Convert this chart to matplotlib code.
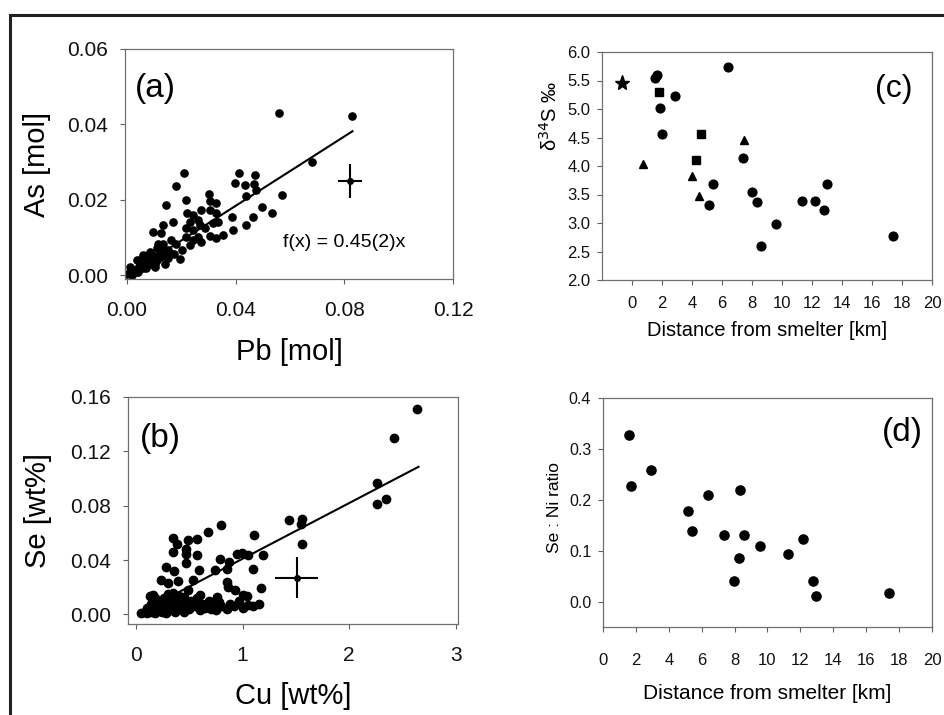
import numpy as np
import matplotlib
matplotlib.use("Agg")
import matplotlib.pyplot as plt
from matplotlib.lines import Line2D

plt.rcParams['font.family'] = ['Liberation Sans', 'DejaVu Sans']

# (a) Pb vs As [mol]
pb = [0.0209, 0.0180, 0.0143, 0.0217, 0.0221, 0.0243, 0.0302, 0.0305, 0.0329, 0.0274,
      0.0305, 0.0327, 0.0262, 0.0231, 0.0170, 0.0133, 0.0097, 0.0127, 0.0217, 0.0243,
      0.0268, 0.0286, 0.0317, 0.0335, 0.0353, 0.0305, 0.0327, 0.0388, 0.0390, 0.0439,
      0.0464, 0.0412, 0.0396, 0.0433, 0.0470, 0.0466, 0.0437, 0.0476, 0.0571, 0.0498,
      0.0535, 0.0262, 0.0274, 0.0231, 0.0194, 0.0152, 0.0109, 0.0084, 0.0060, 0.0036,
      0.0011, 0.0000, 0.0023, 0.0048, 0.0072, 0.0097, 0.0121, 0.0139, 0.0103, 0.0072,
      0.0041, 0.0182, 0.0164, 0.0219, 0.0243, 0.0201, 0.0133, 0.0115, 0.0561, 0.0827,
      0.0681, 0.0010, 0.0020, 0.0030, 0.0040, 0.0050, 0.0060, 0.0070, 0.0020, 0.0035,
      0.0080, 0.0090, 0.0110, 0.0120, 0.0140, 0.0160, 0.0050, 0.0070, 0.0100, 0.0150,
      0.0175, 0.0130, 0.0085, 0.0105]
as_ = [0.0272, 0.0236, 0.0186, 0.0199, 0.0165, 0.0159, 0.0215, 0.0197, 0.0192, 0.0174,
       0.0174, 0.0164, 0.0146, 0.0142, 0.0142, 0.0133, 0.0115, 0.0111, 0.0124, 0.0119,
       0.0133, 0.0124, 0.0139, 0.0142, 0.0106, 0.0104, 0.0100, 0.0155, 0.0121, 0.0133,
       0.0155, 0.0272, 0.0245, 0.0239, 0.0265, 0.0242, 0.0210, 0.0226, 0.0212, 0.0181,
       0.0165, 0.0102, 0.0088, 0.0080, 0.0044, 0.0066, 0.0071, 0.0062, 0.0053, 0.0040,
       0.0022, 0.0004, 0.0013, 0.0031, 0.0040, 0.0044, 0.0049, 0.0031, 0.0022, 0.0018,
       0.0009, 0.0084, 0.0093, 0.0102, 0.0093, 0.0066, 0.0084, 0.0084, 0.0429, 0.0422,
       0.0301, 0.0005, 0.0010, 0.0015, 0.0020, 0.0025, 0.0020, 0.0030, 0.0000, 0.0008,
       0.0035, 0.0030, 0.0040, 0.0060, 0.0050, 0.0060, 0.0040, 0.0050, 0.0050, 0.0045,
       0.0055, 0.0070, 0.0045, 0.0030]
pb_err = (0.0821, 0.0250)   # typical error cross
slope_a = 0.46

# (b) Cu vs Se [wt%]
cu = [2.64, 2.42, 2.265, 2.256, 2.343, 1.437, 1.553, 1.546, 1.559, 0.678, 0.794, 1.109,
      0.344, 0.387, 0.49, 0.575, 0.344, 0.469, 0.469, 0.569, 0.469, 0.281, 0.356, 0.588,
      0.787, 0.874, 0.740, 0.850, 0.949, 0.991, 1.053, 1.187, 1.094, 0.231, 0.303, 0.394,
      0.537, 0.850, 0.865, 0.928, 1.169, 1.006, 1.037, 0.756, 0.60, 0.49, 0.162, 0.296,
      0.40, 0.131,
      0.05, 0.08, 0.10, 0.12, 0.15, 0.17, 0.18, 0.20, 0.22, 0.24, 0.25, 0.27, 0.28, 0.30,
      0.32, 0.33, 0.35, 0.37, 0.38, 0.40, 0.42, 0.44, 0.45, 0.47, 0.50, 0.52, 0.55, 0.57,
      0.60, 0.62, 0.65, 0.68, 0.70, 0.72, 0.75, 0.78, 0.80, 0.85, 0.88, 0.92, 0.97, 1.00,
      1.05, 1.10, 1.15, 0.10, 0.14, 0.20, 0.26, 0.30, 0.18, 0.35, 0.45]
se = [0.151, 0.1295, 0.0968, 0.0811, 0.0846, 0.0693, 0.0706, 0.0669, 0.0516, 0.0607,
      0.0656, 0.0588, 0.0566, 0.0521, 0.0546, 0.0553, 0.0459, 0.0484, 0.0448, 0.0440,
      0.0378, 0.0349, 0.0317, 0.0324, 0.0411, 0.0386, 0.0330, 0.0337, 0.0448, 0.0455,
      0.0435, 0.0435, 0.0332, 0.0256, 0.0231, 0.0246, 0.0256, 0.0238, 0.0201, 0.0177,
      0.0197, 0.0140, 0.0133, 0.0128, 0.0147, 0.0177, 0.0147, 0.0140, 0.0133, 0.0133,
      0.001, 0.002, 0.001, 0.003, 0.002, 0.005, 0.001, 0.003, 0.006, 0.002, 0.009, 0.004,
      0.001, 0.006, 0.003, 0.011, 0.005, 0.002, 0.008, 0.004, 0.010, 0.006, 0.002, 0.008,
      0.004, 0.010, 0.006, 0.012, 0.003, 0.008, 0.005, 0.010, 0.004, 0.007, 0.003, 0.009,
      0.006, 0.004, 0.008, 0.006, 0.010, 0.005, 0.007, 0.006, 0.008, 0.005, 0.008, 0.010,
      0.012, 0.015, 0.012, 0.016, 0.013]
cu_err = (1.506, 0.027)
slope_b = 0.041

# (c) delta34S vs distance, by symbol
dist_c_circ = [1.64, 1.56, 1.87, 2.0, 2.89, 6.4, 5.38, 5.15, 7.38, 7.98, 8.31, 8.6, 9.6,
               11.31, 12.18, 12.82, 12.98, 17.42]
d34s_circ = [5.60, 5.54, 5.02, 4.57, 5.22, 5.73, 3.69, 3.31, 4.14, 3.54, 3.36, 2.59, 2.99,
             3.38, 3.39, 3.22, 3.69, 2.77]
dist_c_sq = [1.82, 4.62, 4.29]
d34s_sq = [5.30, 4.56, 4.11]
dist_c_tri = [0.76, 4.0, 4.49, 7.47]
d34s_tri = [4.03, 3.83, 3.47, 4.46]
dist_c_star = [-0.64]
d34s_star = [5.45]

# (d) Se:Ni ratio vs distance
dist_d = [1.60, 1.70, 2.90, 5.15, 5.39, 6.40, 7.37, 8.35, 8.57, 8.27, 7.96, 9.56, 11.26,
          12.16, 12.77, 12.97, 17.39]
se_ni = [0.328, 0.227, 0.258, 0.178, 0.138, 0.209, 0.131, 0.220, 0.131, 0.086, 0.040,
         0.110, 0.094, 0.122, 0.040, 0.011, 0.016]

fig = plt.figure(figsize=(9.45, 7.15), dpi=100)
W, H = 945.0, 715.0


def px_axes(l, t, r, b):
    return fig.add_axes([l / W, 1 - b / H, (r - l) / W, (b - t) / H])


def style(ax, fs, pad_x, pad_y):
    for s in ax.spines.values():
        s.set_color('#707070')
        s.set_linewidth(0.9)
    ax.tick_params(direction='out', length=3.5, width=0.8, color='#606060',
                   labelsize=fs, labelcolor='#111111')
    ax.tick_params(axis='x', pad=pad_x)
    ax.tick_params(axis='y', pad=pad_y)


# outer frame (left and top edges)
fig.add_artist(Line2D([10 / W, 10 / W], [0, 1 - 15 / H], color='#222222', lw=2.2))
fig.add_artist(Line2D([10 / W, 1], [1 - 15 / H, 1 - 15 / H], color='#222222', lw=2.2))

# ---- (a)
ax = px_axes(125, 49, 453, 279)
ax.plot(pb, as_, 'o', color='black', ms=5.2, mec='black')
xx = np.array([0, 0.083])
ax.plot(xx, slope_a * xx, color='black', lw=1.5)
ax.errorbar([pb_err[0]], [pb_err[1]], xerr=0.0044, yerr=0.0044, fmt='o', color='black',
            ms=4, elinewidth=1.5, capsize=0)
ax.set_xlim(-0.0007, 0.12)
ax.set_ylim(-0.001, 0.06)
ax.set_xticks([0, 0.04, 0.08, 0.12])
ax.set_yticks([0, 0.02, 0.04, 0.06])
ax.xaxis.set_major_formatter(plt.FormatStrFormatter('%.2f'))
ax.yaxis.set_major_formatter(plt.FormatStrFormatter('%.2f'))
style(ax, 15, 12, 9)
ax.set_xlabel('Pb [mol]', fontsize=21)
ax.xaxis.set_label_coords(0.5, -0.255)
ax.set_ylabel('As [mol]', fontsize=21)
ax.yaxis.set_label_coords(-0.225, 0.5)
ax.text(0.03, 0.83, '(a)', transform=ax.transAxes, fontsize=24, ha='left', va='center')
ax.text(0.482, 0.157, 'f(x) = 0.45(2)x', transform=ax.transAxes, fontsize=14,
        ha='left', va='center')

# ---- (b)
ax = px_axes(128, 397, 458, 624)
ax.plot(cu, se, 'o', color='black', ms=6, mec='black')
xx = np.array([0.1, 2.65])
ax.plot(xx, slope_b * xx, color='black', lw=1.5)
ax.errorbar([cu_err[0]], [cu_err[1]], xerr=0.2, yerr=0.015, fmt='o', color='black',
            ms=4, elinewidth=1.5, capsize=0)
ax.set_xlim(-0.075, 3.02)
ax.set_ylim(-0.007, 0.16)
ax.set_xticks([0, 1, 2, 3])
ax.set_yticks([0, 0.04, 0.08, 0.12, 0.16])
ax.yaxis.set_major_formatter(plt.FormatStrFormatter('%.2f'))
style(ax, 15, 12, 9)
ax.set_xlabel('Cu [wt%]', fontsize=21)
ax.xaxis.set_label_coords(0.5, -0.255)
ax.set_ylabel('Se [wt%]', fontsize=21)
ax.yaxis.set_label_coords(-0.23, 0.5)
ax.text(0.036, 0.815, '(b)', transform=ax.transAxes, fontsize=24, ha='left', va='center')

# ---- (c)
ax = px_axes(602, 52, 932, 280)
ax.plot(dist_c_circ, d34s_circ, 'o', color='black', ms=6.3)
ax.plot(dist_c_sq, d34s_sq, 's', color='black', ms=5.6)
ax.plot(dist_c_tri, d34s_tri, '^', color='black', ms=6.3)
ax.plot(dist_c_star, d34s_star, '*', color='black', ms=11)
ax.set_xlim(-2, 20)
ax.set_ylim(2.0, 6.0)
ax.set_xticks(range(0, 21, 2))
ax.set_yticks(np.arange(2.0, 6.01, 0.5))
ax.yaxis.set_major_formatter(plt.FormatStrFormatter('%.1f'))
style(ax, 12, 8, 5)
ax.set_xlabel('Distance from smelter [km]', fontsize=14.5)
ax.xaxis.set_label_coords(0.5, -0.18)
ax.set_ylabel('δ$^{34}$S ‰', fontsize=14.5)
ax.yaxis.set_label_coords(-0.125, 0.72)
ax.text(0.942, 0.838, '(c)', transform=ax.transAxes, fontsize=23, ha='right', va='center')

# ---- (d)
narrow = ['Liberation Sans Narrow', 'Liberation Sans', 'DejaVu Sans']
ax = px_axes(603, 398, 932, 627)
ax.plot(dist_d, se_ni, 'o', color='black', ms=6.6)
ax.set_xlim(0, 20)
ax.set_ylim(-0.05, 0.4)
ax.set_xticks(range(0, 21, 2))
ax.set_yticks([0.0, 0.1, 0.2, 0.3, 0.4])
ax.yaxis.set_major_formatter(plt.FormatStrFormatter('%.1f'))
style(ax, 11.5, 15, 5)
for lab in ax.get_xticklabels():
    lab.set_family(narrow)
    lab.set_fontsize(12)
ax.set_xlabel('Distance from smelter [km]', fontsize=15, family=narrow)
ax.xaxis.set_label_coords(0.5, -0.25)
ax.set_ylabel('Se : Ni ratio', fontsize=12.5, family=narrow)
ax.yaxis.set_label_coords(-0.125, 0.52)
ax.text(0.973, 0.85, '(d)', transform=ax.transAxes, fontsize=24, ha='right', va='center')

fig.savefig('out.png', dpi=100)
